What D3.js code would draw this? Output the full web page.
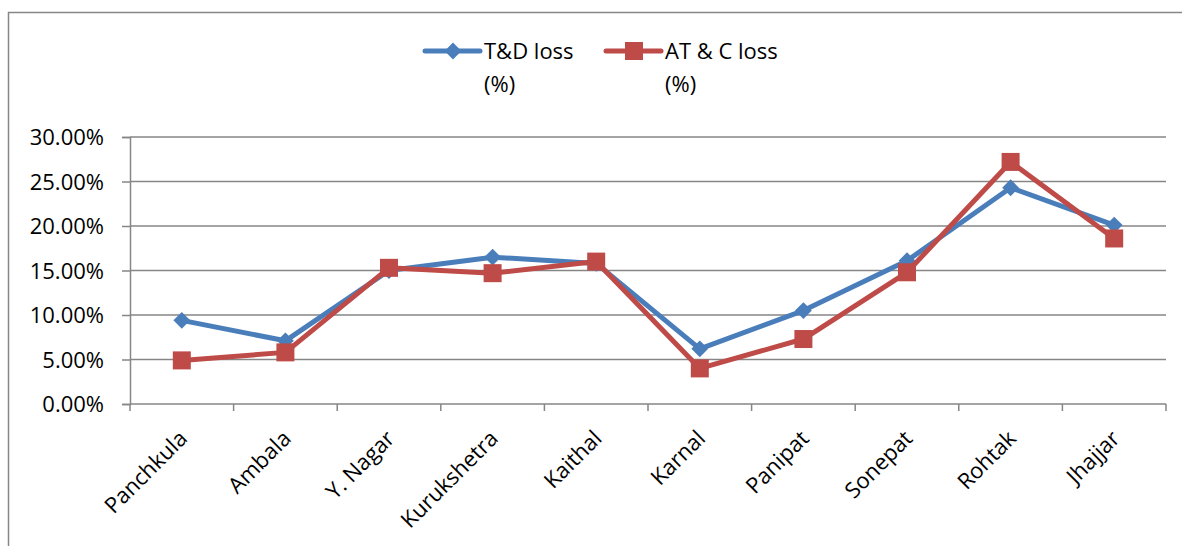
<!DOCTYPE html>
<html>
<head>
<meta charset="utf-8">
<script src="https://cdn.jsdelivr.net/npm/d3@7"></script>
<style>
  html, body { margin: 0; padding: 0; background: #fff; }
  svg { display: block; }
  text { font-family: "Open Sans", "Noto Sans", sans-serif; fill: #000; }
</style>
</head>
<body>
<svg id="chart" width="1182" height="546"></svg>
<script>
// Distribution losses by district (fraction of input energy)
const districts = ["Panchkula", "Ambala", "Y. Nagar", "Kurukshetra", "Kaithal",
                   "Karnal", "Panipat", "Sonepat", "Rohtak", "Jhajjar"];
const tdLoss  = [0.094, 0.071, 0.150, 0.165, 0.158, 0.062, 0.105, 0.161, 0.243, 0.201];
const atcLoss = [0.049, 0.058, 0.153, 0.147, 0.160, 0.040, 0.073, 0.148, 0.272, 0.186];
const yTicks  = [0, 0.05, 0.10, 0.15, 0.20, 0.25, 0.30];
const seriesNames = [["T&D loss", "(%)"], ["AT & C loss", "(%)"]];

const svg = d3.select("#chart");
const gridColor = "#868686";
const blue = "#4a7ebb", red = "#be4b48";
const fontSize = "22px";

// outer chart frame (left and top edges visible)
svg.append("path")
  .attr("d", "M8.5,546 V12.5 H1182")
  .attr("fill", "none").attr("stroke", gridColor).attr("stroke-width", 1.5);

const x = d3.scaleBand().domain(districts).range([130, 1166]);
const y = d3.scaleLinear().domain([0, 0.30]).range([404, 137]);

// horizontal gridlines
svg.append("g").selectAll("line").data(yTicks.slice(1)).join("line")
  .attr("x1", 130).attr("x2", 1166)
  .attr("y1", d => y(d)).attr("y2", d => y(d))
  .attr("stroke", gridColor).attr("stroke-width", 1.5);

// y axis
const yAxis = svg.append("g").attr("transform", "translate(130,0)")
  .call(d3.axisLeft(y).tickValues(yTicks).tickSize(8).tickPadding(18)
        .tickFormat(d => (d * 100).toFixed(2) + "%"));
yAxis.select(".domain").attr("stroke", gridColor).attr("stroke-width", 1.5);
yAxis.selectAll(".tick line").attr("stroke", gridColor).attr("stroke-width", 1.5);
yAxis.selectAll(".tick text").style("font-size", fontSize).attr("dy", "0.35em");

// x axis: ticks at category boundaries
const xAxis = svg.append("g").attr("transform", "translate(0,404)");
xAxis.append("line").attr("x1", 130).attr("x2", 1166)
  .attr("stroke", gridColor).attr("stroke-width", 1.5);
const bounds = districts.map(d => x(d)).concat([x(districts[districts.length - 1]) + x.bandwidth()]);
xAxis.selectAll("line.tk").data(bounds).join("line").attr("class", "tk")
  .attr("x1", d => d).attr("x2", d => d).attr("y1", 0).attr("y2", 7)
  .attr("stroke", gridColor).attr("stroke-width", 1.5);
xAxis.selectAll("text").data(districts).join("text")
  .attr("transform", d => `translate(${x(d) + x.bandwidth() / 2 - 4},${25}) rotate(-45)`)
  .attr("text-anchor", "end")
  .attr("dy", "0.7em")
  .style("font-size", fontSize)
  .text(d => d);

const cx = d => x(d) + x.bandwidth() / 2;
const line = d3.line().x(d => cx(d[0])).y(d => y(d[1]));

// T&D loss series
svg.append("path").datum(d3.zip(districts, tdLoss))
  .attr("d", line).attr("fill", "none").attr("stroke", blue)
  .attr("stroke-width", 5).attr("stroke-linejoin", "round");
svg.append("g").selectAll("path").data(d3.zip(districts, tdLoss)).join("path")
  .attr("d", d3.symbol(d3.symbolDiamond2, 180))
  .attr("transform", d => `translate(${cx(d[0])},${y(d[1])})`)
  .attr("fill", blue);

// AT & C loss series
svg.append("path").datum(d3.zip(districts, atcLoss))
  .attr("d", line).attr("fill", "none").attr("stroke", red)
  .attr("stroke-width", 5).attr("stroke-linejoin", "round");
svg.append("g").selectAll("rect").data(d3.zip(districts, atcLoss)).join("rect")
  .attr("x", d => cx(d[0]) - 9).attr("y", d => y(d[1]) - 9)
  .attr("width", 18).attr("height", 18)
  .attr("fill", red);

// legend
const legend = svg.append("g");
const legendItems = [
  { x0: 425, color: blue, shape: "diamond", name: seriesNames[0] },
  { x0: 606, color: red,  shape: "square",  name: seriesNames[1] }
];
legendItems.forEach(it => {
  const g = legend.append("g").attr("transform", `translate(${it.x0},51)`);
  g.append("line").attr("x1", 0).attr("x2", 55)
    .attr("stroke", it.color).attr("stroke-width", 5).attr("stroke-linecap", "round");
  if (it.shape === "diamond") {
    g.append("path").attr("d", d3.symbol(d3.symbolDiamond2, 180))
      .attr("transform", "translate(28,0)").attr("fill", it.color);
  } else {
    g.append("rect").attr("x", 19).attr("y", -9).attr("width", 18).attr("height", 18)
      .attr("fill", it.color);
  }
  const t = g.append("text").attr("x", 59).attr("y", 0).style("font-size", fontSize);
  t.append("tspan").attr("x", 59).attr("dy", "0.35em").text(it.name[0]);
  t.append("tspan").attr("x", 59).attr("dy", "1.5em").text(it.name[1]);
});
</script>
</body>
</html>
